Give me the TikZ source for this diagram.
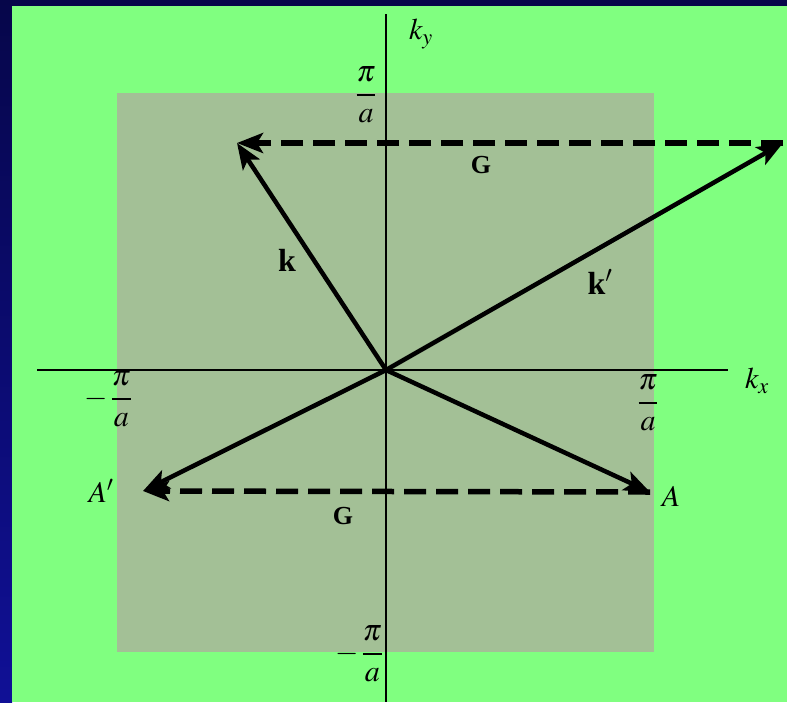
\documentclass[tikz,border=0pt]{standalone}
\usepackage{mathptmx}
\usepackage{fontspec}
\setmainfont{Liberation Serif}
\usetikzlibrary{arrows.meta}
\definecolor{bggreen}{RGB}{128,255,128}
\definecolor{navy}{RGB}{6,6,74}
\definecolor{frameblue}{RGB}{16,16,150}
\definecolor{zone}{RGB}{163,192,150}
\newcommand{\pia}{{\displaystyle\pi\above1.8pt a}}
\begin{document}
\begin{tikzpicture}[x=1pt,y=-1pt,
  tip/.style={-{Stealth[length=26pt,width=20pt,inset=6pt]}},
  vec/.style={line width=4.5pt,tip},
  gvec/.style={line width=5.5pt,dash pattern=on 22pt off 10pt,tip},
  axisline/.style={line width=1.8pt},
  lbl/.style={inner sep=0pt,font=\fontsize{30}{36}\selectfont},
  blbl/.style={inner sep=0pt,font=\fontsize{32}{38}\selectfont\bfseries},
  glbl/.style={inner sep=0pt,font=\fontsize{26}{30}\selectfont\bfseries}]
\useasboundingbox (0,0) rectangle (787,702);
% frame and background
\fill[navy] (0,0) rectangle (787,702);
\shade[top color=navy,bottom color=frameblue] (0,0) rectangle (12,702);
\fill[bggreen] (12,6) rectangle (787,702);
% first Brillouin zone
\fill[zone] (117,93) rectangle (654,652);
% axes
\coordinate (xl) at (37,370);
\coordinate (xr) at (728,370);
\coordinate (yt) at (386,14);
\coordinate (yb) at (386,702);
\draw[axisline] (xl) -- (xr);
\draw[axisline] (yt) -- (yb);
\node[lbl] (kx) at (757,381) {$k_x$};
\node[lbl] (ky) at (421,34) {$k_y$};
% tick labels
\node[lbl] (pt) at (366,95) {$\displaystyle\pia$};
\node[lbl] (pb) at (359,654) {$\displaystyle-\,\pia$};
\node[lbl] (pl) at (108,399) {$\displaystyle-\,\pia$};
\node[lbl] (pr) at (648,403) {$\displaystyle\pia$};
% vectors
\coordinate (O) at (386,370);
\coordinate (K) at (237,143);
\coordinate (Kp) at (783,143);
\coordinate (A) at (650,492);
\coordinate (Ap) at (143,491);
\draw[vec] (O) -- (K);
\draw[vec] (O) -- (Kp);
\draw[vec] (O) -- (A);
\draw[vec] (O) -- (Ap);
\draw[gvec] (Kp) -- (K);
\draw[gvec] (A) -- (Ap);
% labels
\node[blbl] (kl) at (287,260) {k};
\node[blbl] (kpl) at (600,282) {k$'$};
\node[glbl] (g1) at (481,165) {G};
\node[glbl] (g2) at (343,516) {G};
\node[lbl] (al) at (671,496) {$A$};
\node[lbl] (apl) at (101,491) {$A'$};
\end{tikzpicture}
\end{document}
